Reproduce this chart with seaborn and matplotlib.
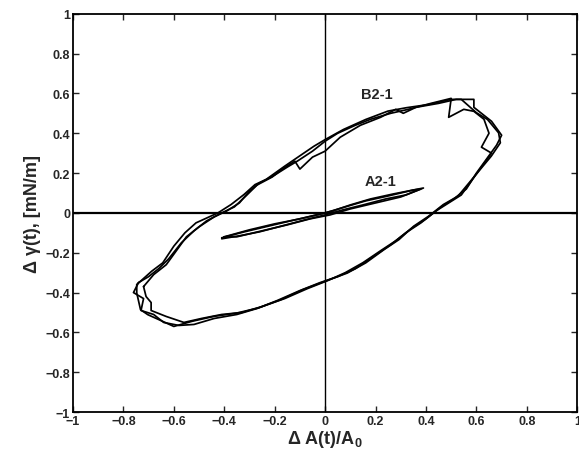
import matplotlib
matplotlib.use("Agg")
import matplotlib.pyplot as plt
import seaborn as sns
import pandas as pd

# B2-1 loop, three cycles
b_x1 = [-0.747, -0.688, -0.644, -0.60, -0.556, -0.512, -0.425, -0.373, -0.322, -0.278, -0.234, -0.161,
        -0.102, -0.044, 0.0, 0.073, 0.161, 0.249, 0.322, 0.41, 0.498, 0.54, 0.60, 0.644, 0.688, 0.695,
        0.659, 0.615, 0.571, 0.527, 0.469, 0.41, 0.351, 0.293, 0.234, 0.161, 0.088, 0.0, -0.088, -0.176,
        -0.264, -0.351, -0.439, -0.527, -0.60, -0.659, -0.703, -0.732, -0.747, -0.747]
b_y1 = [-0.36, -0.293, -0.251, -0.167, -0.10, -0.05, 0.0, 0.042, 0.092, 0.142, 0.168, 0.234,
        0.285, 0.335, 0.368, 0.419, 0.469, 0.511, 0.528, 0.544, 0.57, 0.57, 0.503, 0.469, 0.402, 0.352,
        0.285, 0.218, 0.151, 0.084, 0.042, -0.017, -0.067, -0.134, -0.184, -0.251, -0.302, -0.343, -0.385, -0.436,
        -0.477, -0.503, -0.519, -0.544, -0.57, -0.536, -0.511, -0.486, -0.402, -0.36]

b_x2 = [-0.72, -0.68, -0.63, -0.59, -0.55, -0.50, -0.44, -0.39, -0.34, -0.30, -0.26, -0.20, -0.15, -0.11,
        -0.05, 0.0, 0.05, 0.12, 0.18, 0.26, 0.33, 0.42, 0.50, 0.49, 0.55, 0.59, 0.63, 0.65, 0.62, 0.66,
        0.62, 0.58, 0.54, 0.49, 0.44, 0.40, 0.34, 0.28, 0.22, 0.15, 0.08, 0.01, -0.07, -0.16, -0.25,
        -0.33, -0.41, -0.49, -0.56, -0.63, -0.69, -0.69, -0.71, -0.72]
b_y2 = [-0.37, -0.31, -0.26, -0.19, -0.12, -0.07, -0.02, 0.01, 0.05, 0.11, 0.15, 0.19, 0.23, 0.26,
        0.31, 0.36, 0.40, 0.44, 0.47, 0.50, 0.52, 0.55, 0.575, 0.48, 0.52, 0.51, 0.47, 0.40, 0.33, 0.30,
        0.23, 0.16, 0.09, 0.05, 0.01, -0.03, -0.08, -0.14, -0.19, -0.25, -0.30, -0.34, -0.38, -0.43, -0.47,
        -0.50, -0.51, -0.53, -0.55, -0.52, -0.49, -0.45, -0.42, -0.37]

b_x3 = [-0.74, -0.70, -0.66, -0.62, -0.57, -0.52, -0.47, -0.41, -0.36, -0.31, -0.27, -0.21, -0.17, -0.12,
        -0.10, -0.05, 0.0, 0.06, 0.14, 0.22, 0.28, 0.31, 0.36, 0.45, 0.52, 0.59, 0.59, 0.62, 0.66, 0.70,
        0.68, 0.64, 0.60, 0.56, 0.51, 0.46, 0.42, 0.38, 0.32, 0.26, 0.19, 0.12, 0.05, -0.02, -0.10,
        -0.19, -0.27, -0.35, -0.44, -0.52, -0.58, -0.64, -0.68, -0.73, -0.72, -0.76, -0.74]
b_y3 = [-0.35, -0.32, -0.28, -0.23, -0.15, -0.09, -0.04, 0.00, 0.03, 0.09, 0.14, 0.18, 0.22, 0.26,
        0.22, 0.28, 0.31, 0.38, 0.44, 0.48, 0.52, 0.50, 0.53, 0.55, 0.57, 0.57, 0.53, 0.50, 0.46, 0.39,
        0.34, 0.27, 0.20, 0.12, 0.07, 0.03, -0.01, -0.05, -0.10, -0.16, -0.22, -0.28, -0.32, -0.35, -0.39,
        -0.44, -0.48, -0.51, -0.53, -0.56, -0.565, -0.55, -0.51, -0.49, -0.43, -0.40, -0.35]

# A2-1 loop, two cycles
a_x1 = [-0.41, -0.32, -0.22, -0.12, -0.04, 0.03, 0.10, 0.18, 0.27, 0.33, 0.39,
        0.32, 0.24, 0.15, 0.07, 0.0, -0.08, -0.17, -0.26, -0.34, -0.41]
a_y1 = [-0.125, -0.095, -0.065, -0.035, -0.012, 0.01, 0.04, 0.07, 0.095, 0.11, 0.125,
        0.09, 0.07, 0.04, 0.015, -0.01, -0.035, -0.065, -0.095, -0.115, -0.13]
a_x2 = [-0.40, -0.30, -0.20, -0.10, 0.0, 0.08, 0.16, 0.25, 0.35, 0.38,
        0.30, 0.20, 0.10, 0.02, -0.06, -0.15, -0.25, -0.35, -0.40]
a_y2 = [-0.12, -0.085, -0.055, -0.03, 0.0, 0.03, 0.06, 0.085, 0.115, 0.12,
        0.08, 0.05, 0.02, -0.01, -0.03, -0.06, -0.09, -0.12, -0.12]

ticks = [-1, -0.8, -0.6, -0.4, -0.2, 0, 0.2, 0.4, 0.6, 0.8, 1]
tick_labels = ["\u22121", "\u22120.8", "\u22120.6", "\u22120.4", "\u22120.2", "0",
               "0.2", "0.4", "0.6", "0.8", "1"]

sns.set_style("ticks")
plt.rcParams['font.family'] = ['Liberation Sans', 'DejaVu Sans']
plt.rcParams['mathtext.default'] = 'regular'
plt.rcParams['xtick.direction'] = 'in'
plt.rcParams['ytick.direction'] = 'in'

fig = plt.figure(figsize=(5.79, 4.60), dpi=100)
ax = fig.add_axes([0.126, 0.102, 0.871, 0.866])

cycles = [(b_x1, b_y1), (b_x2, b_y2), (b_x3, b_y3), (a_x1, a_y1), (a_x2, a_y2)]
for xs, ys in cycles:
    df = pd.DataFrame({"x": xs, "y": ys})
    sns.lineplot(data=df, x="x", y="y", sort=False, estimator=None,
                 color="black", lw=1.25, ax=ax)

ax.axhline(0, color="black", lw=1.6)
ax.axvline(0, color="black", lw=1.0)

ax.text(0.205, 0.595, "B2-1", fontsize=10.5, fontweight="bold", ha="center", va="center")
ax.text(0.22, 0.16, "A2-1", fontsize=10.5, fontweight="bold", ha="center", va="center")

ax.set_xlim(-1, 1)
ax.set_ylim(-1, 1)
ax.set_xticks(ticks)
ax.set_xticklabels(tick_labels, fontsize=9, fontweight="bold")
ax.set_yticks(ticks)
ax.set_yticklabels(tick_labels, fontsize=9, fontweight="bold")
ax.tick_params(top=True, right=True, length=4, width=1, pad=2)
for s in ax.spines.values():
    s.set_linewidth(1.3)
    s.set_color("black")

ax.set_xlabel("\u0394 A(t)/A$_0$", fontsize=13, fontweight="bold", labelpad=1)
ax.set_ylabel("\u0394 \u03b3(t), [mN/m]", fontsize=13, fontweight="bold", labelpad=3)

fig.savefig("out.png", dpi=100)
